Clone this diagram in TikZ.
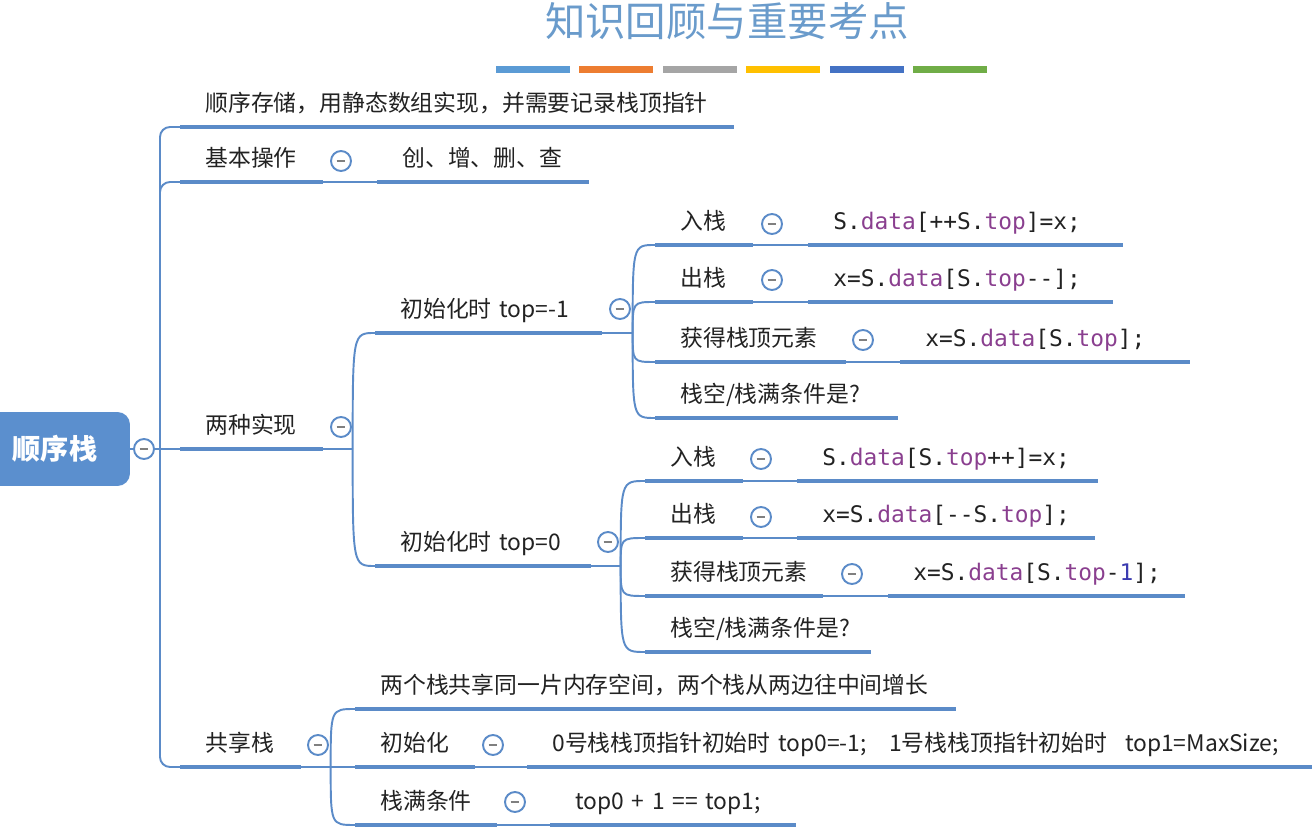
\documentclass[tikz,border=0pt]{standalone}
\usepackage{fontspec}
\setmainfont{Noto Sans CJK SC}
\newfontfamily\codefont{DejaVu Sans Mono}
\usetikzlibrary{calc}
\definecolor{mapblue}{HTML}{5B8BC8}
\definecolor{rootblue}{HTML}{5B8FCE}
\definecolor{ttlblue}{HTML}{6A9BCB}
\definecolor{kwpurple}{HTML}{8A3F8F}
\definecolor{numblue}{HTML}{3B3BB0}
\definecolor{ink}{HTML}{222222}
\definecolor{barA}{HTML}{5B9BD5}
\definecolor{barB}{HTML}{ED7D31}
\definecolor{barC}{HTML}{A5A5A5}
\definecolor{barD}{HTML}{FFC000}
\definecolor{barE}{HTML}{4472C4}
\definecolor{barF}{HTML}{70AD47}
\newcommand\kw[1]{\textcolor{kwpurple}{#1}}
\newcommand\dec{\mbox{-}\mbox{-}}

\tikzset{
  topic/.style={anchor=south west, inner sep=0pt, text width=#1, align=left,
    text height=0.5cm, text depth=0.3cm, text=ink,
    font=\fontsize{13pt}{15pt}\selectfont, execute at begin node=\hspace*{0.5cm}},
  code/.style={topic=#1, font=\codefont\fontsize{13pt}{15pt}\selectfont},
  uline/.style={mapblue, line width=2.8pt},
  link/.style={mapblue, line width=1.1pt},
  fold/.style={circle, draw=mapblue, line width=1.1pt, fill=white, minimum size=0.4cm, inner sep=0pt,
    path picture={\draw[gray, line width=0.8pt] ([xshift=-2.5pt]path picture bounding box.center)
      -- ([xshift=2.5pt]path picture bounding box.center);}},
  rootbox/.style={fill=rootblue, rounded corners=0.25cm, minimum width=3cm, minimum height=1.48cm,
    text=white, font=\bfseries\fontsize{16pt}{18pt}\selectfont},
  ttl/.style={text=ttlblue, font=\fontsize{23pt}{28pt}\selectfont}
}

\begin{document}
\begin{tikzpicture}[x=0.02cm,y=-0.02cm]
\useasboundingbox (0,0) rectangle (1312,830);
% title and colour bars
\node[ttl] (title) at (727,21) {知识回顾与重要考点};
\foreach \c [count=\i from 0] in {barA,barB,barC,barD,barE,barF}
  \fill[\c] (496+83.4*\i,66) rectangle ++(74,7);

% root and first level
\node[rootbox] (root) at (55,449) {顺序栈};
\coordinate (trunk) at (160,449);
\node[topic=11.06cm] (store) at (180,127) {顺序存储，用静态数组实现，并需要记录栈顶指针};
\node[topic=2.84cm] (basic) at (180,182) {基本操作};
\node[topic=4.22cm] (ops) at (377,182) {创、增、删、查};
\node[topic=2.84cm] (two) at (180,449) {两种实现};
\node[topic=2.40cm] (share) at (180,767) {共享栈};

% two implementations
\node[topic=4.52cm] (init1) at (375,333) {初始化时 top=-1};
\node[topic=4.30cm] (init0) at (375,566) {初始化时 top=0};
\node[topic=1.94cm] (push1) at (655,245) {入栈};
\node[topic=1.94cm] (pop1) at (655,302) {出栈};
\node[topic=3.80cm] (peek1) at (655,362) {获得栈顶元素};
\node[topic=4.84cm] (empty1) at (655,418) {栈空/栈满条件是?};
\node[code=6.28cm] (pushc1) at (808,245) {S.\kw{data}[++S.\kw{top}]=x;};
\node[code=6.08cm] (popc1) at (808,302) {x=S.\kw{data}[S.\kw{top}\dec];};
\node[code=5.78cm] (peekc1) at (900,362) {x=S.\kw{data}[S.\kw{top}];};
\node[topic=1.94cm] (push0) at (645,481) {入栈};
\node[topic=1.94cm] (pop0) at (645,538) {出栈};
\node[topic=3.54cm] (peek0) at (645,596) {获得栈顶元素};
\node[topic=4.50cm] (empty0) at (645,652) {栈空/栈满条件是?};
\node[code=6.00cm] (pushc0) at (797,481) {S.\kw{data}[S.\kw{top}++]=x;};
\node[code=5.94cm] (popc0) at (797,538) {x=S.\kw{data}[\dec S.\kw{top}];};
\node[code=5.92cm] (peekc0) at (888,596) {x=S.\kw{data}[S.\kw{top}-\textcolor{numblue}{1}];};

% shared stack
\node[topic=12.00cm] (desc) at (355,709) {两个栈共享同一片内存空间，两个栈从两边往中间增长};
\node[topic=2.38cm] (initS) at (355,767) {初始化};
\node[topic=2.82cm] (fullS) at (355,825) {栈满条件};
\node[topic=15.70cm] (initc) at (527,767) {0号栈栈顶指针初始时 top0=-1;\hspace{0.45cm}1号栈栈顶指针初始时\hspace{0.35cm}top1=MaxSize;};
\node[topic=4.90cm] (fullc) at (550,825) {top0 + 1 == top1;};

% connectors
\draw[link] (root.east) -- (trunk) -- (two.south west);
\draw[link, rounded corners=0.2cm] (store.south west) -| (trunk);
\draw[link, rounded corners=0.2cm] (basic.south west) -| (trunk);
\draw[link, rounded corners=0.2cm] (share.south west) -| (trunk);
\draw[link] (basic.south east) -- (ops.south west);

\coordinate (j2) at ($(two.south east)+(30,0)$);
\coordinate (j3) at ($(init1.south east)+(31,0)$);
\coordinate (j4) at ($(init0.south east)+(30,0)$);
\coordinate (j5) at ($(share.south east)+(30,0)$);
\draw[link] (two.south east) -- (j2);
\draw[link] (init1.south east) -- (j3);
\draw[link] (init0.south east) -- (j4);
\draw[link] (share.south east) -- (j5) -- (initS.south west);
\foreach \a/\b in {j2/init1,j2/init0,j3/push1,j3/pop1,j3/peek1,j3/empty1,
                   j4/push0,j4/pop0,j4/peek0,j4/empty0,j5/desc,j5/fullS}
  \draw[link] (\a) .. controls (\a |- \b.south west) .. (\b.south west);
\foreach \a/\b in {push1/pushc1,pop1/popc1,peek1/peekc1,push0/pushc0,pop0/popc0,peek0/peekc0,
                   initS/initc,fullS/fullc}
  \draw[link] (\a.south east) -- (\b.south west);

% underlines
\foreach \n in {store,basic,ops,two,share,init1,init0,push1,pop1,peek1,empty1,pushc1,popc1,peekc1,
                push0,pop0,peek0,empty0,pushc0,popc0,peekc0,desc,initS,fullS,initc,fullc}
  \draw[uline] (\n.south west) -- (\n.south east);

% fold marks
\node[fold] (f0) at (144,449) {};
\node[fold] (fb) at (341,161) {};
\node[fold] (ft) at (341,427) {};
\node[fold] (fi1) at (620,309) {};
\node[fold] (fp1) at (772,224) {};
\node[fold] (fo1) at (772,280) {};
\node[fold] (fg1) at (863,340) {};
\node[fold] (fi0) at (608,542) {};
\node[fold] (fp0) at (761,459) {};
\node[fold] (fo0) at (761,517) {};
\node[fold] (fg0) at (852,574) {};
\node[fold] (fs) at (318,745) {};
\node[fold] (fis) at (493,745) {};
\node[fold] (ffs) at (515,802) {};
\end{tikzpicture}
\end{document}
